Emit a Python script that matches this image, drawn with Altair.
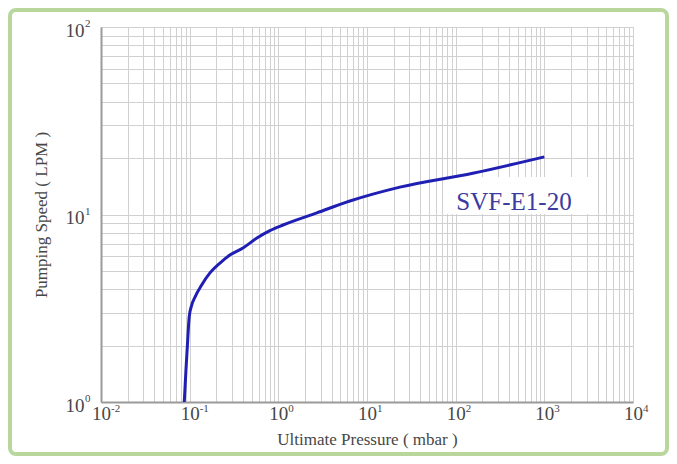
import altair as alt
import pandas as pd

# Curve data
pressure = [0.0869, 0.0908, 0.094, 0.0988, 0.1055, 0.1148, 0.1365, 0.1694,
            0.2198, 0.284, 0.399, 0.574, 0.803, 1.13, 2.72, 6.41, 23.5, 156, 1000]
speed = [1.0, 1.48, 1.96, 2.84, 3.29, 3.63, 4.21, 4.88,
         5.51, 6.08, 6.63, 7.49, 8.2, 8.79, 10.2, 11.8, 14.0, 16.6, 20.3]

series_name = "SVF-E1-20"

x_decades = [0.01, 0.1, 1, 10, 100, 1000, 10000]
x_exponents = ["-2", "-1", "0", "1", "2", "3", "4"]
y_decades = [1, 10, 100]
y_exponents = ["0", "1", "2"]

df = pd.DataFrame({"p": pressure, "s": speed})
xdec = pd.DataFrame({"v": x_decades, "e": x_exponents})
ydec = pd.DataFrame({"v": y_decades, "e": y_exponents})


def grid_values(decades):
    vals = []
    for d in decades[:-1]:
        for m in range(1, 10):
            vals.append(m * d)
    vals.append(decades[-1])
    return vals


def label_expr(decades):
    cond = " || ".join(f"datum.value == {d}" for d in decades)
    return f"({cond}) ? '10' : ''"


FONT = "Liberation Serif"
TXT = "#474747"

x_axis = alt.Axis(
    values=grid_values(x_decades),
    labelExpr=label_expr(x_decades),
    title="Ultimate Pressure ( mbar )",
    grid=True, gridColor="#d0d0d0", gridWidth=1,
    ticks=False, domainColor="#9a9a9a", domainWidth=2,
    labelFont=FONT, labelFontSize=19, labelColor=TXT, labelPadding=2,
    labelOverlap=False, labelFlush=False,
    titleFont=FONT, titleFontSize=17, titleFontWeight="normal",
    titleColor=TXT, titlePadding=8,
)
y_axis = alt.Axis(
    values=grid_values(y_decades),
    labelExpr=label_expr(y_decades),
    title="Pumping Speed ( LPM )",
    grid=True, gridColor="#d0d0d0", gridWidth=1,
    ticks=False, domainColor="#9a9a9a", domainWidth=2,
    labelFont=FONT, labelFontSize=19, labelColor=TXT, labelPadding=17,
    labelOverlap=False, labelFlush=False, labelBaseline="middle", labelOffset=3,
    titleFont=FONT, titleFontSize=17, titleFontWeight="normal",
    titleColor=TXT, titlePadding=15,
)

xs = alt.Scale(type="log", domain=[0.01, 10000], nice=False)
ys = alt.Scale(type="log", domain=[1, 100], nice=False)

one = pd.DataFrame({"name": [series_name]})

border = alt.Chart(one).mark_rect(
    fill="transparent", stroke="#b9d69d", strokeWidth=4, cornerRadius=6
).encode(
    x=alt.value(-91), x2=alt.value(566), y=alt.value(-17), y2=alt.value(427)
)

box = alt.Chart(one).mark_rect(fill="white").encode(
    x=alt.value(342), x2=alt.value(489), y=alt.value(150), y2=alt.value(187)
)

line = alt.Chart(df).mark_line(color="#1f1fb4", strokeWidth=3, interpolate="monotone").encode(
    x=alt.X("p:Q", scale=xs, axis=x_axis),
    y=alt.Y("s:Q", scale=ys, axis=y_axis),
)

x_exp = alt.Chart(xdec).mark_text(
    font=FONT, fontSize=11, color=TXT, align="left", baseline="top", dx=10
).encode(
    x=alt.X("v:Q", scale=xs), y=alt.value(376), text="e:N"
)

y_exp = alt.Chart(ydec).mark_text(
    font=FONT, fontSize=11, color=TXT, align="left", baseline="middle", dy=-3
).encode(
    y=alt.Y("v:Q", scale=ys), x=alt.value(-16), text="e:N"
)

label = alt.Chart(one).mark_text(
    font=FONT, fontSize=25, color="#3b3ba0", align="center", baseline="alphabetic"
).encode(
    text="name:N", x=alt.value(413), y=alt.value(183)
)

chart = alt.layer(border, box, line, x_exp, y_exp, label).properties(
    width=532, height=375,
    autosize=alt.AutoSizeParams(type="none"),
    padding={"left": 93, "top": 19, "right": 36, "bottom": 54},
).configure_view(stroke=None).configure(background="white")

chart.save("out.html", embed_options={"renderer": "svg", "actions": False})
